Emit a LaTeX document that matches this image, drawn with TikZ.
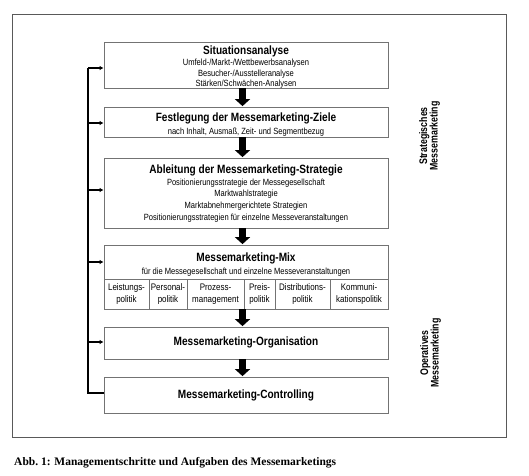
\documentclass[tikz,border=0pt]{standalone}
\usepackage{fontspec}
\setmainfont{Liberation Serif}
\newfontfamily\nar[FakeStretch=0.84]{Liberation Sans}
\newfontfamily\sideff{Liberation Sans Bold}
\usetikzlibrary{arrows.meta}
\newcommand{\sidelabel}[2]{\scalebox{0.8}[1]{\sideff\fontsize{11}{12}\selectfont\begin{tabular}{@{}c@{}}#1\\[-1.5pt]#2\end{tabular}}}
\begin{document}
\begin{tikzpicture}[x=1pt,y=-1pt,
  box/.style={draw=black!55,line width=0.8pt,fill=white,inner sep=0pt},
  ttl/.style={font=\nar\bfseries\fontsize{12}{13}\selectfont,inner sep=0pt,anchor=center},
  sub/.style={font=\nar\fontsize{9}{10.5}\selectfont,inner sep=0pt,align=center,anchor=center},
  cell/.style={font=\nar\fontsize{9.5}{12.5}\selectfont,inner sep=0pt,align=center,anchor=center},
  side/.style={inner sep=0pt,rotate=90,anchor=center},
  blockarrow/.style={-{Triangle[width=15pt,length=7pt]},line width=7pt,black,shorten >=0.5pt},
  fb/.style={line width=1.4pt,black},
  fbarrow/.style={fb,-{Latex[length=4pt,width=4.5pt]}}
]
\useasboundingbox (0,0) rectangle (529,475);
\fill[white] (0,0) rectangle (529,475);
% outer frame
\node[draw=black!65,line width=0.9pt,minimum width=494pt,minimum height=423pt,inner sep=0pt] (frame) at (259,225.5) {};

% boxes
\node[box,minimum width=284pt,minimum height=46pt] (b1) at (246,65) {};
\node[box,minimum width=284pt,minimum height=30pt] (b2) at (246,122) {};
\node[box,minimum width=284pt,minimum height=70pt] (b3) at (246,193) {};
\node[box,minimum width=284pt,minimum height=64pt] (b4) at (246,277) {};
\node[box,minimum width=284pt,minimum height=32pt] (b5) at (246,343) {};
\node[box,minimum width=284pt,minimum height=36pt] (b6) at (246,395) {};

% box 1
\node[ttl] (t1) at (246,51) {Situationsanalyse};
\node[sub] (s1) at (246,74) {Umfeld-/Markt-/Wettbewerbsanalysen\\Besucher-/Ausstelleranalyse\\Stärken/Schwächen-Analysen};
% box 2
\node[ttl] (t2) at (246,118.5) {Festlegung der Messemarketing-Ziele};
\node[sub] (s2) at (246,132) {nach Inhalt, Ausmaß, Zeit- und Segmentbezug};
% box 3
\node[ttl] (t3) at (246,170.5) {Ableitung der Messemarketing-Strategie};
\node[sub,font=\nar\fontsize{9}{11.7}\selectfont] (s3) at (246,200.5) {Positionierungsstrategie der Messegesellschaft\\Marktwahlstrategie\\Marktabnehmergerichtete Strategien\\Positionierungsstrategien für einzelne Messeveranstaltungen};
% box 4
\node[ttl] (t4) at (246,258.5) {Messemarketing-Mix};
\node[sub] (s4) at (246,272.5) {für die Messegesellschaft und einzelne Messeveranstaltungen};
\coordinate (c0) at (104,279);
\coordinate (c1) at (149,279);
\coordinate (c2) at (187,279);
\coordinate (c3) at (244,279);
\coordinate (c4) at (275,279);
\coordinate (c5) at (330,279);
\coordinate (c6) at (388,279);
\draw[draw=black!55,line width=0.8pt] (c0) -- (c6);
\foreach \c in {c1,c2,c3,c4,c5}{\draw[draw=black!55,line width=0.8pt] (\c) -- (\c |- b4.south);}
\node[cell] (p1) at (126.5,294) {Leistungs-\\politik};
\node[cell] (p2) at (168,294) {Personal-\\politik};
\node[cell] (p3) at (215.5,294) {Prozess-\\management};
\node[cell] (p4) at (259.5,294) {Preis-\\politik};
\node[cell] (p5) at (302.5,294) {Distributions-\\politik};
\node[cell] (p6) at (359,294) {Kommuni-\\kationspolitik};
% box 5, 6
\node[ttl] (t5) at (246,342) {Messemarketing-Organisation};
\node[ttl] (t6) at (246,395) {Messemarketing-Controlling};

% block arrows
\coordinate (ax) at (242.5,0);
\draw[blockarrow] (b1.south -| ax) -- (b2.north -| ax);
\draw[blockarrow] (b2.south -| ax) -- (b3.north -| ax);
\draw[blockarrow] (b3.south -| ax) -- (b4.north -| ax);
\draw[blockarrow] (b4.south -| ax) -- (b5.north -| ax);
\draw[blockarrow] (b5.south -| ax) -- (b6.north -| ax);

% feedback loop
\coordinate (fbtop) at (88,68);
\coordinate (fbbot) at (88,393);
\coordinate (a2) at (88,123);
\coordinate (a3) at (88,190);
\coordinate (a4) at (88,262);
\coordinate (a5) at (88,342);
\draw[fb] (b6.west |- fbbot) -- (fbbot) -- (fbtop);
\draw[fbarrow] (fbtop) -- (b1.west |- fbtop);
\draw[fbarrow] (a2) -- (b2.west |- a2);
\draw[fbarrow] (a3) -- (b3.west |- a3);
\draw[fbarrow] (a4) -- (b4.west |- a4);
\draw[fbarrow] (a5) -- (b5.west |- a5);

% side labels
\node[side] (l1) at (430,136) {\sidelabel{Strategisches}{Messemarketing}};
\node[side] (l2) at (431,353) {\sidelabel{Operatives}{Messemarketing}};

% caption
\node[font=\bfseries\fontsize{11.5}{13}\selectfont,anchor=west,inner sep=0pt] (cap) at (14,463) {Abb.~1: Managementschritte und Aufgaben des Messemarketings};
\end{tikzpicture}
\end{document}
